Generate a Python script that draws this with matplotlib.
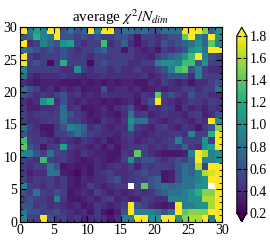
import numpy as np
import matplotlib.pyplot as plt
from matplotlib.ticker import MultipleLocator

plt.rcParams['font.family'] = ['Liberation Serif', 'DejaVu Serif']
plt.rcParams['mathtext.fontset'] = 'stix'

nan = np.nan
# average chi^2 / N_dim per cell, rows listed from y=29 (top) down to y=0
rows_top = [
    [1.9, 0.8, 1.1, 0.9, 1.9, 1.9, 0.6, 0.8, 0.6, 0.7, 1.9, 0.9, 1.9, 1.9, 0.6, 0.8, 0.8, 0.7, 0.8, 0.6, 0.6, 0.8, 0.8, 0.8, 1.9, 1.9, 1.9, 1.5, 0.7, 1.0],
    [0.6, 0.7, 1.2, 0.9, 0.8, 1.9, 0.6, 0.6, 0.5, 0.6, 0.5, 0.6, 0.5, 0.5, 0.6, 0.6, 0.5, 0.3, 0.5, 0.5, 0.4, 0.5, 0.6, 0.6, 1.4, 1.9, 0.9, 0.7, 1.9, 1.0],
    [1.9, 0.4, 0.5, 0.9, 0.7, 0.6, 1.0, 1.1, 0.5, 0.4, 0.5, 0.5, 1.3, 0.4, 0.5, 0.7, 0.4, 0.3, 0.4, 0.5, 0.4, 0.6, 0.5, 0.6, 0.7, 0.8, 1.0, 0.7, 1.4, 0.9],
    [0.8, 0.7, 0.6, 0.5, 0.6, 0.5, 0.6, 0.5, 0.4, 0.5, 0.5, 0.6, 0.7, 0.5, 0.5, 0.3, 0.5, 0.4, 0.35, 0.4, 0.3, 0.5, 0.4, 0.5, 0.6, 1.0, 1.1, 0.8, 1.9, 1.9],
    [1.9, 0.5, 0.4, 0.5, 0.5, 0.5, 0.6, 0.5, 0.45, 0.5, 0.4, 0.5, 0.5, 0.45, 0.5, 0.5, 0.5, 0.4, 0.4, 0.35, 0.5, 0.6, 0.7, 0.8, 1.0, 1.3, 1.9, 0.9, 0.6, 0.5],
    [1.9, 0.5, 0.6, 0.5, 0.25, 0.5, 1.2, 0.5, 0.5, 0.5, 0.25, 0.5, 0.6, 0.5, 0.5, 0.5, 0.4, 0.4, 0.5, 0.5, 0.9, 1.0, 1.0, 0.9, 1.3, 1.3, 0.6, 1.0, 0.5, 0.5],
    [0.9, 0.5, 0.5, 0.5, 0.5, 0.5, 0.4, 0.4, 1.0, 0.5, 0.4, 0.5, 0.5, 0.4, 0.5, 0.4, 0.4, 0.5, 0.4, 0.4, 0.5, 0.6, 0.9, 1.3, 1.4, 0.6, 0.9, 0.5, 0.4, 0.4],
    [0.8, 0.4, 0.35, 0.4, 0.4, 0.4, 0.45, 0.4, 0.4, 0.35, 0.4, 0.4, 0.45, 0.4, 0.4, 0.4, 0.4, 0.4, 0.45, 0.35, 0.4, 0.5, 0.6, 0.6, 0.6, 0.4, 0.9, 0.5, 0.5, 0.5],
    [0.4, 0.35, 0.3, 0.35, 0.35, 0.35, 0.3, 0.3, 0.3, 0.35, 0.3, 0.35, 0.3, 0.35, 0.3, 0.35, 0.35, 0.3, 0.3, 0.4, 0.35, 0.5, 0.4, 0.35, 0.4, 0.3, 0.4, 0.4, 0.5, 0.6],
    [0.8, 0.6, 0.5, 0.35, 0.4, 0.3, 0.4, 0.35, 0.4, 0.3, 0.35, 0.35, 0.6, 0.35, 0.4, 0.4, 0.35, 0.4, 0.3, 0.35, 0.4, 0.35, 0.4, 0.4, 0.5, 0.5, 0.4, 0.5, 0.5, 0.8],
]
rows_mid = [
    [0.6, 0.5, 0.4, 0.45, 0.4, 0.5, 0.6, 0.4, 0.45, 0.35, 0.4, 0.35, 0.45, 0.4, 0.4, 0.4, 0.4, 0.35, 0.45, 0.4, 1.4, 0.5, 0.6, 0.45, 0.4, 0.6, 0.45, 0.5, 0.4, 0.4],
    [0.4, 0.35, 0.4, 1.0, 1.2, 0.4, 0.6, 0.4, 0.35, 0.4, 0.35, 0.35, 0.3, 0.35, 0.3, 0.35, 0.4, 0.3, 0.45, 0.6, 1.9, 0.45, 0.4, 0.35, 0.4, 0.5, 0.45, 0.4, 0.5, 0.45],
    [0.45, 0.35, 0.35, 0.4, 0.4, 0.45, 0.75, 0.4, 0.45, 0.3, 0.3, 0.35, 0.4, 0.3, 0.4, 0.45, 0.6, 0.35, 0.3, 0.45, 0.4, 0.5, 0.45, 0.3, 0.45, 0.35, 0.4, 0.35, 0.45, 0.4],
    [0.5, 0.4, 0.45, 0.5, 0.45, 0.5, 0.8, 0.6, 0.45, 0.4, 0.3, 0.35, 0.4, 0.35, 0.3, 0.4, 0.8, 0.45, 0.5, 0.35, 0.4, 0.45, 0.4, 0.4, 0.35, 0.45, 0.5, 0.35, 0.4, 0.6],
    [0.45, 0.4, 0.4, 0.45, 0.5, 0.5, 0.75, 0.5, 0.5, 0.4, 0.35, 0.3, 0.45, 0.4, 0.35, 0.45, 1.0, 0.8, 0.8, 0.45, 0.4, 0.35, 0.4, 0.45, 0.4, 0.35, 0.45, 0.4, 1.9, 1.0],
    [0.8, 0.5, 0.4, 0.3, 0.3, 0.45, 0.6, 0.9, 0.8, 0.7, 0.4, 0.5, 0.4, 0.35, 0.4, 0.4, 0.9, 0.45, 0.4, 0.35, 0.45, 0.5, 0.4, 0.35, 0.45, 0.4, 0.3, 0.45, 0.6, 1.5],
    [0.6, 0.45, 0.45, 0.35, 0.3, 0.5, 0.5, 0.6, 0.8, 0.6, 0.5, 0.45, 0.4, 0.4, 0.35, 0.45, 0.5, 0.4, 0.35, 0.4, 0.45, 0.4, 0.45, 0.5, 0.4, 0.9, 0.5, 0.5, 1.2, 1.9],
    [1.3, 0.5, 0.45, 0.5, 0.4, 0.35, 0.45, 0.4, 0.35, 0.45, 0.4, 0.35, 0.4, 0.3, 0.35, 0.4, 0.45, 0.35, 0.4, 0.45, 0.4, 0.45, 0.5, 0.9, 0.5, 0.5, 0.5, 1.0, 0.5, 1.9],
    [1.4, 0.6, 0.5, 0.3, 0.45, 0.5, 1.1, 0.45, 0.4, 0.4, 0.35, 0.4, 0.3, 0.4, 0.3, 0.4, 0.45, 0.45, 0.5, 0.4, 0.45, 0.4, 0.5, 0.45, 0.7, 0.45, 0.4, 1.0, 1.1, 1.9],
    [0.9, 0.9, 0.6, 0.5, 0.8, 0.5, 0.5, 0.4, 0.35, 0.45, 0.4, 0.35, 0.35, 0.3, 0.3, 0.45, 0.4, 1.4, 0.5, 0.4, 0.35, 0.3, 0.3, 0.3, 0.35, 0.9, 1.9, 1.6, 0.9, 1.0],
]
rows_low = [
    [0.5, 0.45, 0.4, 1.3, 0.5, 0.45, 0.5, 0.4, 0.35, 0.3, 0.35, 0.4, 0.35, 0.3, 0.35, 0.5, 1.0, 0.5, 0.6, 0.6, 0.5, 0.4, 0.5, 0.6, 0.5, 0.7, 1.9, 0.9, 0.9, 1.0],
    [0.45, 0.4, 0.5, 0.5, 0.8, 0.6, 0.3, 0.35, 0.3, 0.35, 0.3, 0.4, 0.35, 0.4, 0.45, 0.4, 0.5, 0.35, 0.5, 0.45, 0.5, 0.5, 0.45, 0.6, 0.8, 0.7, 1.6, 0.5, 1.9, 1.9],
    [0.45, 0.35, 0.4, 0.4, 0.8, 0.8, 0.35, 0.3, 0.25, 0.35, 0.3, 0.4, 0.45, 0.5, 0.4, 0.4, 0.45, 0.5, 0.6, 0.5, 0.5, 0.3, 0.35, 0.6, 0.8, 0.7, 0.9, 1.6, 1.7, 1.9],
    [0.5, 0.4, 0.5, 0.45, 0.5, 0.4, 0.5, 0.35, 0.3, 0.4, 0.35, 0.4, 0.4, 0.5, 0.6, 0.4, 0.45, 0.5, 0.5, 0.6, 0.7, 0.3, 0.35, 0.6, 0.8, 0.8, 0.9, 1.0, 1.9, 1.9],
    [0.9, 0.5, 0.45, 0.4, 0.5, 0.4, 0.45, 0.35, 0.3, 0.35, 0.5, 0.4, 0.35, 0.4, 0.45, 0.45, nan, 0.5, 1.4, 0.6, 0.7, 0.8, 0.7, 0.75, 0.8, 0.8, 1.0, 1.0, nan, 1.9],
    [0.6, 0.5, 0.8, 0.5, 0.45, 0.6, 0.5, 0.3, 0.35, 0.4, 0.35, 0.5, 0.4, 0.35, 0.4, 0.35, 0.4, 0.45, 0.4, 0.45, 0.6, 0.7, 0.8, 0.8, 0.9, 1.0, 1.2, 1.5, 1.5, 1.9],
    [0.5, 0.6, 0.5, 0.45, 0.4, 0.9, 0.45, 0.3, 0.3, 0.35, 0.4, 0.35, 0.45, 0.5, 0.35, 0.4, 0.35, 0.35, 0.5, 0.45, 0.4, 0.4, 0.9, 0.9, 0.9, 1.0, 1.0, 1.6, 1.6, 1.9],
    [0.6, 0.6, 0.45, 0.5, 0.4, 0.45, 0.4, 0.35, 0.4, 0.3, 0.35, 0.45, 0.4, 0.35, 0.4, 0.5, 1.9, 0.6, 0.5, 0.4, 0.35, 0.3, 0.35, 1.9, 0.9, 0.9, 1.0, 1.0, 1.6, 1.9],
    [0.8, 0.6, 0.6, 0.5, 0.5, 0.6, 0.45, 0.4, 0.35, 0.4, 0.3, 0.45, 0.3, 0.25, 0.35, 0.6, 1.9, 0.9, 0.9, 0.9, 0.8, 0.6, 0.8, 1.9, 1.4, 1.5, 1.5, 1.5, 1.9, 1.9],
    [0.9, 0.5, 0.5, 1.9, 0.6, 0.45, 0.5, 0.4, 0.45, 0.35, 0.4, 0.45, 0.4, 0.3, 0.4, 0.9, 0.9, 1.9, 1.9, 1.0, 1.0, 1.9, 1.9, 1.0, 1.5, 1.6, 1.6, 1.9, 0.9, 1.9],
]

chi2 = np.flipud(np.array(rows_top + rows_mid + rows_low))
edges = np.arange(31)

fig = plt.figure(figsize=(2.7, 2.43), dpi=100)
ax = fig.add_axes([0.074, 0.088, 0.748, 0.8])
cax = fig.add_axes([0.877, 0.088, 0.037, 0.8])

mesh = ax.pcolormesh(edges, edges, np.ma.masked_invalid(chi2), cmap='viridis', vmin=0.2, vmax=1.8)
ax.set_xlim(0, 30)
ax.set_ylim(0, 30)
ax.set_title(r'average $\chi^2/N_{dim}$', fontsize=11, pad=3)
ax.xaxis.set_major_locator(MultipleLocator(5))
ax.yaxis.set_major_locator(MultipleLocator(5))
ax.xaxis.set_minor_locator(MultipleLocator(1))
ax.yaxis.set_minor_locator(MultipleLocator(1))
ax.tick_params(which='both', direction='in', top=True, right=True, labelsize=10, pad=2)
ax.tick_params(which='major', length=4)
ax.tick_params(which='minor', length=2)

cb = fig.colorbar(mesh, cax=cax, extend='both', ticks=np.arange(0.2, 1.81, 0.2))
cb.ax.tick_params(direction='in', left=True, right=True, labelsize=10, length=3, pad=2)
cb.ax.set_yticklabels(['%.1f' % t for t in np.arange(0.2, 1.81, 0.2)])

fig.savefig('out.png', dpi=100)
